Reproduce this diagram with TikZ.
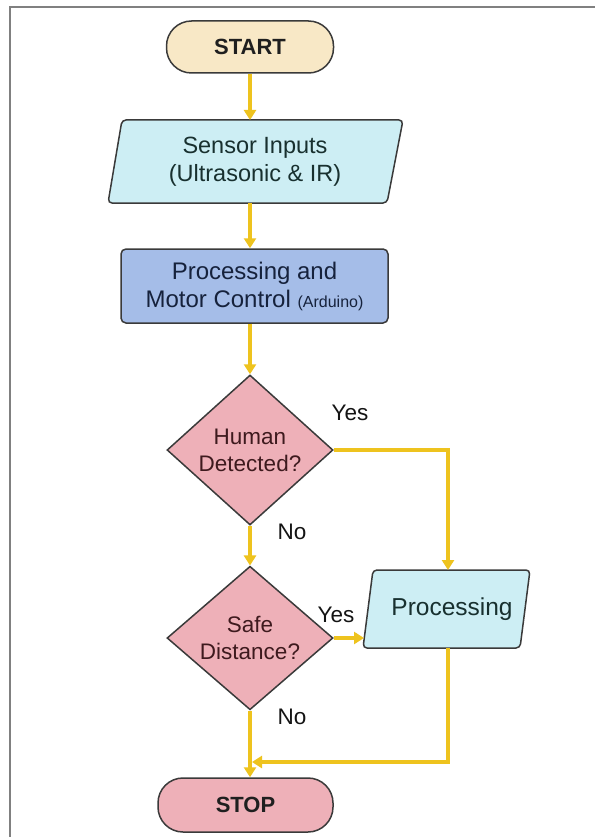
\documentclass[tikz,border=0pt]{standalone}
\usepackage{fontspec}
\setmainfont{Liberation Sans}
\usetikzlibrary{shapes.geometric,arrows.meta}

\definecolor{startfill}{HTML}{F8E8C6}
\definecolor{iofill}{HTML}{CDEEF4}
\definecolor{procfill}{HTML}{A5BDE8}
\definecolor{decfill}{HTML}{EEB0B8}
\definecolor{flow}{HTML}{EEC31E}
\definecolor{edge}{HTML}{3A3A3A}
\definecolor{frame}{HTML}{808080}
\definecolor{iotext}{HTML}{18302F}
\definecolor{proctext}{HTML}{16223C}
\definecolor{dectext}{HTML}{3E1A1E}

\tikzset{
  terminal/.style={draw=edge, line width=1.5pt, rounded corners=25pt,
    minimum width=#1, minimum height=52pt, inner sep=0pt,
    font=\fontsize{22}{26}\selectfont\bfseries, text=black!88},
  iobox/.style={draw=edge, fill=iofill, line width=1.5pt, rounded corners=4pt},
  iolabel/.style={align=center, text=iotext, font=\fontsize{23.5}{28}\selectfont},
  procbox/.style={draw=edge, fill=procfill, line width=1.5pt, rounded corners=5pt,
    minimum width=267pt, minimum height=74pt, inner sep=0pt, align=center,
    text=proctext, font=\fontsize{24}{28}\selectfont},
  decision/.style={diamond, draw=edge, fill=decfill, line width=1.5pt,
    inner sep=0pt, minimum width=166pt, minimum height=#1, align=center,
    text=dectext, font=\fontsize{22.5}{27}\selectfont},
  flowline/.style={draw=flow, line width=3.5pt},
  flowarrow/.style={flowline, -{Triangle[length=10pt,width=12pt]}},
  branch/.style={text=black!92, font=\fontsize{22.5}{26}\selectfont},
}

\begin{document}
\begin{tikzpicture}[x=1pt, y=-1pt]
  \useasboundingbox (0,0) rectangle (595,837);
  \fill[white] (0,0) rectangle (595,837);

  % frame lines on the left and top
  \draw[frame, line width=1.5pt] (10,837) -- (10,7) -- (595,7);

  % terminals
  \node[terminal=167pt, fill=startfill] (start) at (250,47) {START};
  \node[terminal=175pt, fill=decfill, minimum height=54pt] (stop) at (245.5,805) {STOP};

  % sensor input parallelogram
  \draw[iobox] (122,120) -- (403,120) -- (387,203) -- (108,203) -- cycle;
  \node[iolabel, minimum height=83pt, inner sep=0pt] (sensor) at (255,161.5)
    {Sensor Inputs\\(Ultrasonic \& IR)};

  % processing box
  \node[procbox] (proc) at (254.5,286)
    {Processing and\\Motor Control {\fontsize{16}{20}\selectfont(Arduino)}};

  % decisions
  \node[decision=150pt] (human) at (250,450) {Human\\Detected?};
  \node[decision=142pt] (safe) at (250,638) {Safe\\Distance?};

  % processing output parallelogram
  \draw[iobox] (373,570) -- (530,570) -- (520,648) -- (363,648) -- cycle;
  \node[iolabel, font=\fontsize{24.5}{28}\selectfont, minimum height=78pt, inner sep=0pt]
    (output) at (452,609) {Processing};
  \coordinate (outtop) at (448,570);
  \coordinate (outleft) at (364,638);
  \coordinate (outbot) at (448,648);
  \coordinate (merge) at (250,762);

  % connectors
  \draw[flowarrow] (start.south) -- (250,120);
  \draw[flowarrow] (250,203) -- (proc.north -| 250,0);
  \draw[flowarrow] (proc.south -| 250,0) -- (human.north);
  \draw[flowarrow] (human.south) -- (safe.north);
  \draw[flowarrow] (human.east) -| (outtop);
  \draw[flowarrow] (safe.east) -- (outleft);
  \draw[flowarrow] (safe.south) -- (safe.south |- stop.north);
  \draw[flowarrow] (outbot) |- ([xshift=2pt]merge);

  % branch labels
  \node[branch] (yes1) at (350,413) {Yes};
  \node[branch] (no1) at (292,532) {No};
  \node[branch] (yes2) at (336,615) {Yes};
  \node[branch] (no2) at (292,717) {No};
\end{tikzpicture}
\end{document}
